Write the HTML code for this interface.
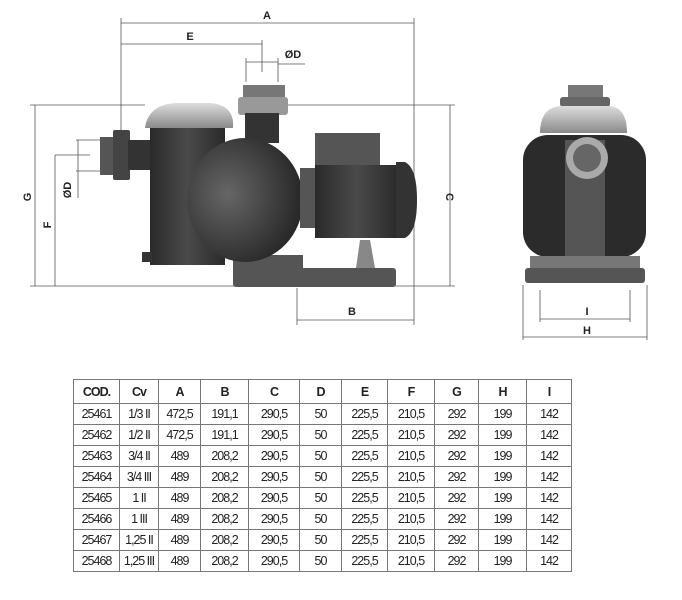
<!DOCTYPE html>
<html><head><meta charset="utf-8"><style>
body{margin:0;background:#fff;width:682px;height:600px;overflow:hidden;font-family:"Liberation Sans",sans-serif}
svg{position:absolute;left:0;top:0}
table{position:absolute;left:73px;top:379px;border-collapse:collapse;font-size:12.5px;color:#222}
td{border:1.5px solid #777;text-align:center;height:20px;padding:0;letter-spacing:-1px}
tr:first-child td{font-weight:bold;height:23px}
</style></head><body>
<svg width="682" height="370" viewBox="0 0 682 370">
<defs>
<linearGradient id="dk" x1="0" x2="1"><stop offset="0" stop-color="#2a2a2a"/><stop offset=".5" stop-color="#4a4a4a"/><stop offset="1" stop-color="#2a2a2a"/></linearGradient>
<linearGradient id="lid" x1="0" y1="0" x2="0" y2="1"><stop offset="0" stop-color="#ddd"/><stop offset="1" stop-color="#8a8a8a"/></linearGradient>
<radialGradient id="vol" cx=".35" cy=".45" r=".7"><stop offset="0" stop-color="#666"/><stop offset="1" stop-color="#222"/></radialGradient>
</defs>
<g stroke="#555" stroke-width=".8" fill="none">
<line x1="121" y1="23" x2="414" y2="23"/><line x1="121" y1="44" x2="262" y2="44"/>
<line x1="121" y1="18" x2="121" y2="135"/><line x1="414" y1="18" x2="414" y2="325"/>
<line x1="262" y1="40" x2="262" y2="72"/>
<line x1="246" y1="62" x2="278" y2="62"/><line x1="246" y1="58" x2="246" y2="82"/><line x1="278" y1="58" x2="278" y2="82"/>
<line x1="278" y1="64" x2="305" y2="64"/>
<line x1="35" y1="105" x2="35" y2="286"/><line x1="30" y1="105" x2="145" y2="105"/>
<line x1="55" y1="155" x2="55" y2="286"/><line x1="55" y1="155" x2="90" y2="155"/>
<line x1="78" y1="140" x2="78" y2="198"/><line x1="76" y1="140" x2="100" y2="140"/><line x1="76" y1="171" x2="100" y2="171"/>
<line x1="30" y1="286" x2="240" y2="286"/>
<line x1="450" y1="105" x2="450" y2="286"/><line x1="285" y1="105" x2="455" y2="105"/><line x1="395" y1="286" x2="455" y2="286"/>
<line x1="297" y1="288" x2="297" y2="325"/><line x1="297" y1="320" x2="414" y2="320"/>
<line x1="523" y1="285" x2="523" y2="340"/><line x1="647" y1="285" x2="647" y2="340"/>
<line x1="540" y1="290" x2="540" y2="322"/><line x1="630" y1="290" x2="630" y2="322"/>
<line x1="540" y1="319" x2="630" y2="319"/><line x1="523" y1="337" x2="647" y2="337"/>
</g>
<g font-weight="bold" font-size="11" fill="#222" text-anchor="middle">
<text x="267" y="19">A</text><text x="190" y="40">E</text><text x="293" y="58">ØD</text>
<text x="352" y="315">B</text><text x="587" y="315">I</text><text x="587" y="334">H</text>
<text transform="translate(31,197) rotate(-90)">G</text>
<text transform="translate(51,225) rotate(-90)">F</text>
<text transform="translate(71,190) rotate(-90)">ØD</text>
<text transform="translate(446,197) rotate(90)">C</text>
</g>
<rect x="243" y="85" width="42" height="15" fill="#777"/>
<rect x="238" y="97" width="50" height="18" rx="3" fill="#999"/>
<rect x="245" y="113" width="34" height="30" fill="#333"/>
<rect x="100" y="137" width="18" height="38" fill="#555"/>
<rect x="113" y="130" width="17" height="50" rx="2" fill="#444"/>
<rect x="128" y="140" width="25" height="30" fill="#333"/>
<path d="M145 128 Q148 105 175 103 L210 103 Q235 105 233 128 Z" fill="url(#lid)"/>
<rect x="150" y="128" width="75" height="137" fill="url(#dk)"/>
<rect x="142" y="252" width="10" height="10" fill="#333"/>
<rect x="233" y="255" width="70" height="20" fill="#555"/>
<ellipse cx="245" cy="200" rx="58" ry="62" fill="url(#vol)"/>
<rect x="300" y="168" width="20" height="60" fill="#555"/>
<rect x="315" y="133" width="65" height="35" fill="#555"/>
<rect x="315" y="165" width="83" height="73" fill="url(#dk)"/>
<path d="M396 162 L405 162 Q417 168 417 200 Q417 232 405 238 L396 238 Z" fill="#333"/>
<path d="M360 240 L370 240 L375 268 L356 268 Z" fill="#888"/>
<rect x="233" y="268" width="163" height="19" rx="3" fill="#555"/>
<rect x="568" y="85" width="35" height="15" fill="#777"/>
<rect x="560" y="97" width="50" height="10" rx="3" fill="#666"/>
<path d="M540 133 Q540 108 560 106 L610 106 Q627 108 627 133 Z" fill="url(#lid)"/>
<rect x="523" y="135" width="123" height="122" rx="25" fill="#2b2b2b"/>
<rect x="565" y="140" width="40" height="120" fill="#555"/>
<circle cx="587" cy="158" r="21" fill="#aaa"/><circle cx="587" cy="158" r="14" fill="#666"/>
<rect x="530" y="256" width="110" height="14" fill="#777"/>
<rect x="525" y="268" width="120" height="15" rx="3" fill="#555"/>
</svg>
<table>
<tr><td style="width:45px">COD.</td><td style="width:38px">Cv</td><td style="width:41px">A</td><td style="width:47px">B</td><td style="width:50px">C</td><td style="width:41px">D</td><td style="width:45px">E</td><td style="width:46px">F</td><td style="width:43px">G</td><td style="width:47px">H</td><td style="width:44px">I</td></tr>
<tr><td>25461</td><td>1/3 II</td><td>472,5</td><td>191,1</td><td>290,5</td><td>50</td><td>225,5</td><td>210,5</td><td>292</td><td>199</td><td>142</td></tr>
<tr><td>25462</td><td>1/2 II</td><td>472,5</td><td>191,1</td><td>290,5</td><td>50</td><td>225,5</td><td>210,5</td><td>292</td><td>199</td><td>142</td></tr>
<tr><td>25463</td><td>3/4 II</td><td>489</td><td>208,2</td><td>290,5</td><td>50</td><td>225,5</td><td>210,5</td><td>292</td><td>199</td><td>142</td></tr>
<tr><td>25464</td><td>3/4 III</td><td>489</td><td>208,2</td><td>290,5</td><td>50</td><td>225,5</td><td>210,5</td><td>292</td><td>199</td><td>142</td></tr>
<tr><td>25465</td><td>1 II</td><td>489</td><td>208,2</td><td>290,5</td><td>50</td><td>225,5</td><td>210,5</td><td>292</td><td>199</td><td>142</td></tr>
<tr><td>25466</td><td>1 III</td><td>489</td><td>208,2</td><td>290,5</td><td>50</td><td>225,5</td><td>210,5</td><td>292</td><td>199</td><td>142</td></tr>
<tr><td>25467</td><td>1,25 II</td><td>489</td><td>208,2</td><td>290,5</td><td>50</td><td>225,5</td><td>210,5</td><td>292</td><td>199</td><td>142</td></tr>
<tr><td>25468</td><td>1,25 III</td><td>489</td><td>208,2</td><td>290,5</td><td>50</td><td>225,5</td><td>210,5</td><td>292</td><td>199</td><td>142</td></tr>
</table>
</body></html>
